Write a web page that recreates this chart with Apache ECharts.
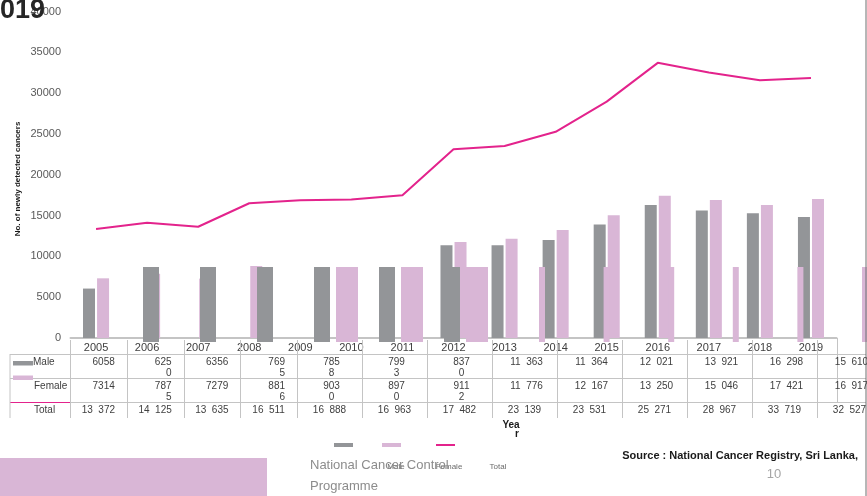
<!DOCTYPE html>
<html>
<head>
<meta charset="utf-8">
<title>Newly detected cancers 2005 - 2019</title>
<script src="https://cdn.jsdelivr.net/npm/echarts/dist/echarts.min.js"></script>
<style>
  html, body { margin: 0; padding: 0; background: #fff; }
  #main { width: 867px; height: 496px; }
</style>
</head>
<body>
<div id="main"></div>
<script>
//*************DATA******************
var years = ['2005', '2006', '2007', '2008', '2009', '2010', '2011', '2012', '2013', '2014', '2015', '2016', '2017', '2018', '2019'];
// bars as they show up in the picture (missing ones are null)
var male = [6058, null, null, null, null, null, null, 11363, 11364, 12021, 13921, 16298, 15610, 15300, 14830];
var female = [7314, 7875, 7279, 8816, null, null, null, 11776, 12167, 13250, 15046, 17421, 16917, 16300, 17030];
var total = [13372, 14125, 13635, 16511, 16888, 16963, 17482, 23139, 23531, 25271, 28967, 33719, 32527, 31600, 31850];

// stray bars of the broken slide, all stuck at the same height
var strayGrayA = [9190, 9190, 9190, 9190];
var strayGrayB = [9190, 9190];
var strayPinkWide = [9190, 9190, 9190];
var strayPinkNarrow = [9190, 9190, 9190, 9190, 9190];
var strayPinkEdge = [9190];
var strayGrayACats = ['2006', '2007', '2008', '2009'];
var strayGrayBCats = ['2011', '2012'];
var strayPinkWideCats = ['2010', '2011', '2012'];
var strayPinkNarrowCats = ['2014', '2015', '2016', '2017', '2019'];
var strayPinkEdgeCats = ['2020'];

var yTicks = [0, 5000, 10000, 15000, 20000, 25000, 30000, 35000, 40000];

// data table under the chart (as printed)
var tableRows = ['Male', 'Female', 'Total'];
var tableMale = ['6058', '625\n0', '6356', '769\n5', '785\n8', '799\n3', '837\n0', '11  363', '11  364', '12  021', '13  921', '16  298', '15  610'];
var tableFemale = ['7314', '787\n5', '7279', '881\n6', '903\n0', '897\n0', '911\n2', '11  776', '12  167', '13  250', '15  046', '17  421', '16  917'];
var tableTotal = ['13  372', '14  125', '13  635', '16  511', '16  888', '16  963', '17  482', '23  139', '23  531', '25  271', '28  967', '33  719', '32  527'];

var legendNames = ['Male', 'Female', 'Total'];

//*************COLOURS / LAYOUT******************
var GRAY = '#939598';
var PINK = '#d9b6d6';
var MAGENTA = '#e3238c';
var LINE = '#c4c4c4';
var FONT = "'Liberation Sans', Arial, sans-serif";

var plotTop = 11.6, plotH = 326.4;
var strayTop = 15.6;

// table column edges: first four columns narrow, rest wider
var colEdges = [];
for (var i = 0; i <= 13; i++) {
  colEdges.push(i <= 4 ? 70 + i * 56.75 : 297 + (i - 4) * 65);
}

var graphics = [];

function txt(x, y, s, o) {
  o = o || {};
  return {
    type: 'text', x: x, y: y, z: 100, rotation: o.rotation || 0,
    style: {
      text: s,
      font: (o.weight || 'normal') + ' ' + (o.size || 10) + 'px ' + FONT,
      fill: o.color || '#404040',
      align: o.align || 'left',
      verticalAlign: o.valign || 'middle',
      lineHeight: o.lineHeight || 11
    }
  };
}
function hline(x1, x2, y, c, w) {
  return { type: 'line', z: 90, shape: { x1: x1, y1: y, x2: x2, y2: y }, style: { stroke: c || LINE, lineWidth: w || 1 } };
}
function vline(x, y1, y2, c, w) {
  return { type: 'line', z: 90, shape: { x1: x, y1: y1, x2: x, y2: y2 }, style: { stroke: c || LINE, lineWidth: w || 1 } };
}
function box(x, y, w, h, c) {
  return { type: 'rect', z: 90, shape: { x: x, y: y, width: w, height: h }, style: { fill: c } };
}

//*************TABLE******************
graphics.push(hline(10, 866, 354.5));
graphics.push(hline(10, 866, 378.5));
graphics.push(hline(70, 866, 402.5));
graphics.push(hline(10, 70, 402.5, MAGENTA, 1.2));
graphics.push(vline(10, 354, 418));
for (var c = 0; c < colEdges.length; c++) {
  graphics.push(vline(Math.round(colEdges[c]) + 0.5, 340, 418));
}
graphics.push(vline(837.5, 338, 403));

graphics.push(box(13, 361, 20, 4.5, GRAY));
graphics.push(box(13, 375.5, 20, 4.5, PINK));
graphics.push(txt(33, 362, tableRows[0]));
graphics.push(txt(34, 386, tableRows[1]));
graphics.push(txt(34, 410, tableRows[2]));

var rowsData = [tableMale, tableFemale, tableTotal];
var rowTop = [356.5, 380.5, 404.5];
for (var r = 0; r < rowsData.length; r++) {
  for (var k = 0; k < rowsData[r].length; k++) {
    var left = colEdges[k], right = colEdges[k + 1];
    if (r < 2 && k < 4) {
      graphics.push(txt(right - 12, rowTop[r], rowsData[r][k], { align: 'right', valign: 'top' }));
    } else {
      graphics.push(txt((left + right) / 2 + (r < 2 ? 2 : 0), rowTop[r], rowsData[r][k], { align: 'center', valign: 'top' }));
    }
  }
}

//*************TITLE, AXIS NAMES, LEGEND, FOOTER******************
graphics.push(txt(-15, 5, '2019', { size: 27, weight: 'bold', color: '#262626', valign: 'top' }));
graphics.push(txt(18, 179, 'No. of newly detected cancers', { size: 8, weight: 'bold', color: '#1a1a1a', align: 'center', rotation: Math.PI / 2 }));
graphics.push(txt(511, 425, 'Yea', { size: 10, weight: 'bold', color: '#1a1a1a', align: 'center' }));
graphics.push(txt(517, 434, 'r', { size: 10, weight: 'bold', color: '#1a1a1a', align: 'center' }));

graphics.push(box(334, 443, 19, 4, GRAY));
graphics.push(box(382, 443, 19, 4, PINK));
graphics.push(hline(436, 455, 445, MAGENTA, 2));
graphics.push(txt(396, 467, legendNames[0], { size: 8, color: '#6b6b6b', align: 'center' }));
graphics.push(txt(449, 467, legendNames[1], { size: 8, color: '#6b6b6b', align: 'center' }));
graphics.push(txt(498, 467, legendNames[2], { size: 8, color: '#6b6b6b', align: 'center' }));

graphics.push(txt(858, 456, 'Source : National Cancer Registry, Sri Lanka,', { size: 11, weight: 'bold', color: '#1a1a1a', align: 'right' }));
graphics.push(box(0, 458, 267, 38, PINK));
graphics.push(txt(310, 465, 'National Cancer Control', { size: 13, color: '#8c8c8c' }));
graphics.push(txt(310, 486, 'Programme', { size: 13, color: '#8c8c8c' }));
graphics.push(txt(774, 474, '10', { size: 13, color: '#a6a6a6', align: 'center' }));
graphics.push(vline(866, 0, 496, '#6e6e6e', 1));

//*************CHART******************
var chart = echarts.init(document.getElementById('main'));

function strayAxis(idx, cats) {
  return { type: 'category', gridIndex: idx, data: cats, show: false };
}
function strayY(idx) {
  return { type: 'value', gridIndex: idx, min: 0, max: 40000, show: false };
}
function straySeries(idx, data, color, width) {
  return {
    type: 'bar', xAxisIndex: idx, yAxisIndex: idx, data: data,
    barWidth: width, itemStyle: { color: color }, z: 3, silent: true
  };
}

var option = {
  animation: false,
  backgroundColor: '#ffffff',
  grid: [
    { left: 70.5, top: plotTop, width: 766, height: plotH },
    { left: 122.5, top: strayTop, width: 228, height: plotH },
    { left: 354.5, top: strayTop, width: 130, height: plotH },
    { left: 314.5, top: strayTop, width: 195, height: plotH },
    { left: 509.7, top: strayTop, width: 323, height: plotH },
    { left: 862, top: strayTop, width: 5, height: plotH }
  ],
  xAxis: [
    {
      type: 'category', gridIndex: 0, data: years,
      axisLine: { lineStyle: { color: LINE, width: 2 } },
      axisTick: { show: false },
      axisLabel: { color: '#404040', fontSize: 11, fontFamily: FONT, margin: 4, interval: 0 }
    },
    strayAxis(1, strayGrayACats),
    strayAxis(2, strayGrayBCats),
    strayAxis(3, strayPinkWideCats),
    strayAxis(4, strayPinkNarrowCats),
    strayAxis(5, strayPinkEdgeCats)
  ],
  yAxis: [
    {
      type: 'value', gridIndex: 0, min: yTicks[0], max: yTicks[yTicks.length - 1], interval: 5000,
      axisLine: { show: false }, axisTick: { show: false }, splitLine: { show: false },
      axisLabel: {
        color: '#595959', fontSize: 11, fontFamily: FONT, margin: 9.5,
        formatter: function (v) { return String(v); }
      }
    },
    strayY(1), strayY(2), strayY(3), strayY(4), strayY(5)
  ],
  series: [
    {
      name: 'Male', type: 'bar', xAxisIndex: 0, yAxisIndex: 0, data: male,
      barWidth: 12, barGap: '17%', itemStyle: { color: GRAY }, z: 2
    },
    {
      name: 'Female', type: 'bar', xAxisIndex: 0, yAxisIndex: 0, data: female,
      barWidth: 12, barGap: '17%', itemStyle: { color: PINK }, z: 2
    },
    straySeries(1, strayGrayA, GRAY, 16),
    straySeries(2, strayGrayB, GRAY, 16),
    straySeries(3, strayPinkWide, PINK, 22),
    straySeries(4, strayPinkNarrow, PINK, 6),
    straySeries(5, strayPinkEdge, PINK, 5),
    {
      name: 'Total', type: 'line', xAxisIndex: 0, yAxisIndex: 0, data: total,
      symbol: 'none', lineStyle: { color: MAGENTA, width: 2 }, itemStyle: { color: MAGENTA }, z: 10
    }
  ],
  graphic: graphics
};

chart.setOption(option);
</script>
</body>
</html>
